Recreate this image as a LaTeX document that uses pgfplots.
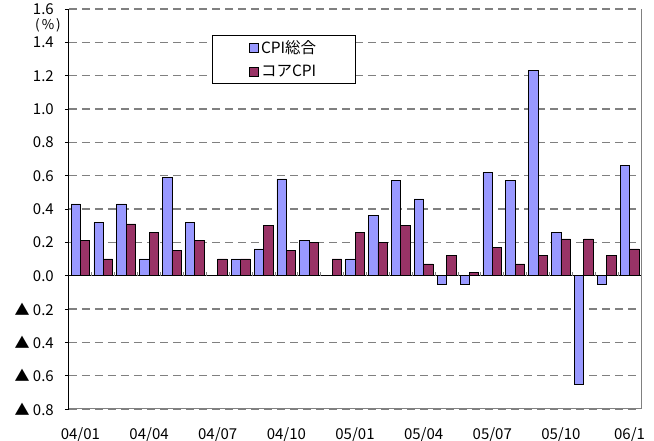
\documentclass[border=0pt]{standalone}
\usepackage{fontspec}
\setmainfont{Noto Sans CJK JP}
\usepackage{pgfplots}
\pgfplotsset{compat=1.18}
\definecolor{cpiblue}{HTML}{9999FF}
\definecolor{coremar}{HTML}{993366}
\definecolor{gridgray}{HTML}{808080}
\begin{document}
\fontsize{15pt}{17pt}\selectfont
\begin{tikzpicture}
\useasboundingbox (0,0) rectangle (654pt,441pt);
\begin{axis}[
  at={(69pt,32pt)}, anchor=south west,
  scale only axis, width=572pt, height=400pt,
  xmin=-0.5, xmax=24.5, ymin=-0.8, ymax=1.6,
  clip=false,
  ybar, bar width=9.4pt,
  xtick={0,3,6,9,12,15,18,21,24},
  xticklabels={04/01,04/04,04/07,04/10,05/01,05/04,05/07,05/10,06/1},
  ytick={-0.8,-0.6,-0.4,-0.2,0,0.2,0.4,0.6,0.8,1.0,1.2,1.4,1.6},
  yticklabels={▲ 0.8,▲ 0.6,▲ 0.4,▲ 0.2,0.0,0.2,0.4,0.6,0.8,1.0,1.2,1.4,1.6},
  xtick pos=bottom, ytick pos=left,
  xtick style={draw=none},
  ytick style={black, line width=0.8pt},
  tick align=outside, major tick length=4pt,
  axis line style={draw=none},
  ymajorgrids,
  major grid style={gridgray, dash pattern=on 8pt off 5pt, line width=1.1pt},
  every tick label/.append style={font=\fontsize{15pt}{17pt}\selectfont},
  xticklabel style={yshift=-9pt},
  yticklabel style={xshift=-6pt},
  legend cell align=left,
  legend style={at={(rel axis cs:0.25,0.935)}, anchor=north west, draw=black,
    line width=0.8pt, inner xsep=37pt, inner ysep=3pt, row sep=5pt,
    font=\fontsize{15.5pt}{17pt}\selectfont},
]
\addplot[fill=cpiblue, draw=black, line width=0.7pt, bar shift=-4.7pt,
  legend image code/.code={\draw[fill=cpiblue,draw=black,line width=0.6pt] (0pt,-4.5pt) rectangle (9pt,4.5pt);}]
  coordinates {(0,0.43) (1,0.32) (2,0.43) (3,0.10) (4,0.59) (5,0.32) (7,0.10) (8,0.16)
  (9,0.58) (10,0.21) (12,0.10) (13,0.36) (14,0.57) (15,0.46) (16,-0.05) (17,-0.05)
  (18,0.62) (19,0.57) (20,1.23) (21,0.26) (22,-0.65) (23,-0.05) (24,0.66)};
\addlegendentry{CPI総合}
\addplot[fill=coremar, draw=black, line width=0.7pt, bar shift=4.7pt,
  legend image code/.code={\draw[fill=coremar,draw=black,line width=0.6pt] (0pt,-4.5pt) rectangle (9pt,4.5pt);}]
  coordinates {(0,0.21) (1,0.10) (2,0.31) (3,0.26) (4,0.15) (5,0.21) (6,0.10) (7,0.10)
  (8,0.30) (9,0.15) (10,0.20) (11,0.10) (12,0.26) (13,0.20) (14,0.30) (15,0.07)
  (16,0.12) (17,0.02) (18,0.17) (19,0.07) (20,0.12) (21,0.22) (22,0.22) (23,0.12) (24,0.16)};
\addlegendentry{コアCPI}
\addplot[black, line width=1pt, forget plot, sharp plot] coordinates {(-0.5,0) (24.5,0)};
\pgfplotsinvokeforeach{0.5,1.5,...,23.5}{\draw[gridgray, line width=0.8pt] (axis cs:#1,0) -- ([yshift=4pt]axis cs:#1,0);}
\draw[gridgray, line width=1pt] (rel axis cs:0,0) -- (rel axis cs:1,0) -- (rel axis cs:1,1);
\draw[black, line width=1pt] (rel axis cs:0,0) -- (rel axis cs:0,1);
\node[font=\fontsize{13.5pt}{15pt}\selectfont, inner sep=0pt] at (rel axis cs:0,0.958) [xshift=-21pt] {(\kern2pt\%\kern2pt)};
\end{axis}
\end{tikzpicture}
\end{document}
